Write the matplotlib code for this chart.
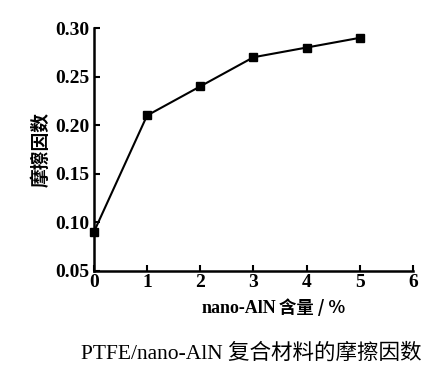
import matplotlib.pyplot as plt

content = [0, 1, 2, 3, 4, 5]
friction = [0.09, 0.21, 0.24, 0.27, 0.28, 0.29]
xticks = [0, 1, 2, 3, 4, 5, 6]
yticks = [0.05, 0.10, 0.15, 0.20, 0.25, 0.30]

serif = ['Liberation Serif', 'Noto Sans CJK SC']
cjk = ['Noto Sans CJK SC', 'DejaVu Sans']

fig = plt.figure(figsize=(4.47, 3.70), dpi=100)
ax = fig.add_axes([0.210, 0.268, 0.714, 0.656])

ax.plot(content, friction, color='black', lw=1.5, marker='s', ms=5.5,
        clip_on=False, zorder=3)

ax.set_xlim(0, 6)
ax.set_ylim(0.05, 0.30)
ax.set_xticks(xticks)
ax.set_yticks(yticks)
ax.set_xticklabels([str(t) for t in xticks], family=serif, fontsize=14, fontweight='bold')
ax.set_yticklabels(['%.2f' % t for t in yticks], family=serif, fontsize=14, fontweight='bold')
ax.tick_params(direction='in', length=4, width=1.5, pad=3)
ax.tick_params(axis='x', pad=2)

for s in ['top', 'right']:
    ax.spines[s].set_visible(False)
for s in ['left', 'bottom']:
    ax.spines[s].set_linewidth(1.8)

fig.text(0.092, 0.597, '摩擦因数', rotation=90, ha='center', va='center',
         family=cjk, fontsize=13.5, fontweight='bold')
fig.text(0.618, 0.167, 'nano-AlN', ha='right', va='center',
         family=serif, fontsize=13, fontweight='bold')
fig.text(0.625, 0.167, '含量 / %', ha='left', va='center',
         family=cjk, fontsize=12.5, fontweight='bold')
fig.text(0.562, 0.043, 'PTFE/nano-AlN 复合材料的摩擦因数', ha='center', va='center',
         family=serif, fontsize=15.5)

fig.savefig('out.png', dpi=100)
